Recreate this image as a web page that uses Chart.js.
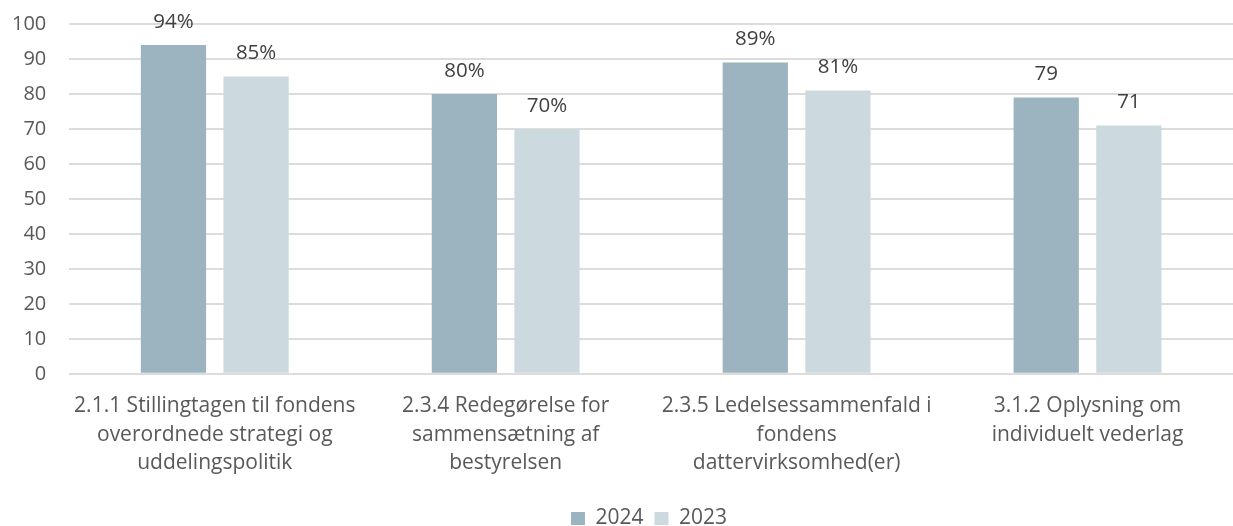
<!DOCTYPE html>
<html>
<head>
<meta charset="utf-8">
<script src="https://cdn.jsdelivr.net/npm/chart.js@4"></script>
<style>
html,body{margin:0;padding:0;background:#fff;overflow:hidden;}
#wrap{width:1233px;height:526px;}
</style>
</head>
<body>
<div id="wrap"><canvas id="c" width="1233" height="526"></canvas></div>
<script>
const categories = [
  ["2.1.1 Stillingtagen til fondens", "overordnede strategi og", "uddelingspolitik"],
  ["2.3.4 Redegørelse for", "sammensætning af", "bestyrelsen"],
  ["2.3.5 Ledelsessammenfald i", "fondens", "dattervirksomhed(er)"],
  ["3.1.2 Oplysning om", "individuelt vederlag"]
];
const series2024 = [94, 80, 89, 79];
const series2023 = [85, 70, 81, 71];
const labels2024 = ["94%", "80%", "89%", "79"];
const labels2023 = ["85%", "70%", "81%", "71"];
const yTicks = [0, 10, 20, 30, 40, 50, 60, 70, 80, 90, 100];

const FONT = "'Open Sans', 'Noto Sans', sans-serif";
const TEXT = '#595959';

const dataLabels = {
  id: 'dataLabels',
  afterDatasetsDraw(chart) {
    const ctx = chart.ctx;
    const lbls = [labels2024, labels2023];
    ctx.save();
    ctx.font = '20.5px ' + FONT;
    ctx.fillStyle = '#404040';
    ctx.textAlign = 'center';
    ctx.textBaseline = 'middle';
    chart.data.datasets.forEach((ds, i) => {
      const meta = chart.getDatasetMeta(i);
      meta.data.forEach((el, j) => {
        ctx.fillText(lbls[i][j], el.x, el.y - 23);
      });
    });
    ctx.restore();
  }
};

const legendShift = {
  id: 'legendShift',
  afterLayout(chart) {
    if (chart.legend) { chart.legend.left += 33; chart.legend.right += 33; }
  }
};

new Chart(document.getElementById('c'), {
  type: 'bar',
  data: {
    labels: categories,
    datasets: [
      { label: '2024', data: series2024, backgroundColor: '#9bb4c0', barPercentage: 0.79, categoryPercentage: 0.568 },
      { label: '2023', data: series2023, backgroundColor: '#ccd9de', barPercentage: 0.79, categoryPercentage: 0.568 }
    ]
  },
  options: {
    responsive: false,
    animation: false,
    layout: { padding: { top: 24, right: -10, left: -11, bottom: -13 } },
    plugins: {
      legend: {
        position: 'bottom',
        labels: {
          font: { family: FONT, size: 21 },
          color: TEXT,
          boxWidth: 14,
          boxHeight: 13,
          padding: 11
        }
      },
      tooltip: { enabled: false }
    },
    scales: {
      x: {
        grid: { display: false },
        border: { display: false },
        afterFit(axis) { axis.height += 9.5; axis.paddingLeft = 0; axis.paddingRight = 0; },
        ticks: {
          font: { family: FONT, size: 21, lineHeight: 1.36 },
          color: TEXT,
          maxRotation: 0,
          autoSkip: false,
          padding: 10
        }
      },
      y: {
        min: 0,
        max: 100,
        afterBuildTicks(axis) { axis.ticks = yTicks.map(v => ({ value: v })); },
        afterFit(axis) { axis.paddingTop = 0; axis.paddingBottom = 0; },
        grid: { color: '#dcdcdc', lineWidth: 2, drawTicks: false },
        border: { display: false },
        ticks: {
          font: { family: FONT, size: 20 },
          color: TEXT,
          padding: 23
        }
      }
    }
  },
  plugins: [dataLabels, legendShift]
});
</script>
</body>
</html>
